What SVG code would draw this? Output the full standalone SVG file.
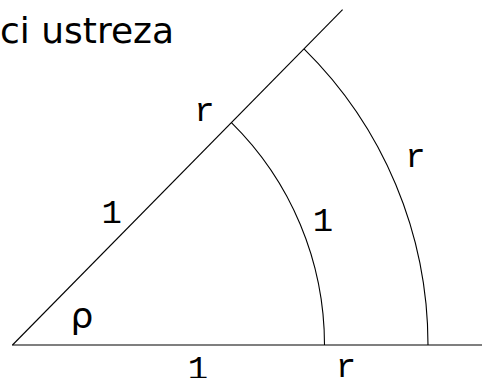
<svg xmlns="http://www.w3.org/2000/svg" width="482" height="378" viewBox="0 0 482 378">
<style>
.ln{fill:none;stroke:#000;stroke-width:1.1}
.lbl{font-family:"Liberation Mono","DejaVu Sans Mono",monospace;font-size:34px;fill:#000;text-anchor:middle}
.ttl{font-family:"DejaVu Sans","Verdana",sans-serif;font-size:36px;fill:#000}
</style>
<rect width="482" height="378" fill="#fff"/>
<text class="ttl" x="0" y="43">ci ustreza</text>
<g id="connectors">
<line class="ln" x1="12" y1="345" x2="482" y2="345" stroke-width="1.4"/>
<line class="ln" x1="12.5" y1="345" x2="342.6" y2="9.6"/>
<path class="ln" d="M231.4,122.6 A312,312 0 0 1 324.5,345"/>
<path class="ln" d="M304,48.9 A415.5,415.5 0 0 1 428,345"/>
</g>
<g id="labels">
<text class="ttl" x="82" y="328" text-anchor="middle">ρ</text>
<text class="lbl" x="204.5" y="121">r</text>
<text class="lbl" x="111.7" y="223">1</text>
<text class="lbl" x="323" y="231">1</text>
<text class="lbl" x="415.5" y="167">r</text>
<text class="lbl" x="198" y="379">1</text>
<text class="lbl" x="346" y="377">r</text>
</g>
</svg>
